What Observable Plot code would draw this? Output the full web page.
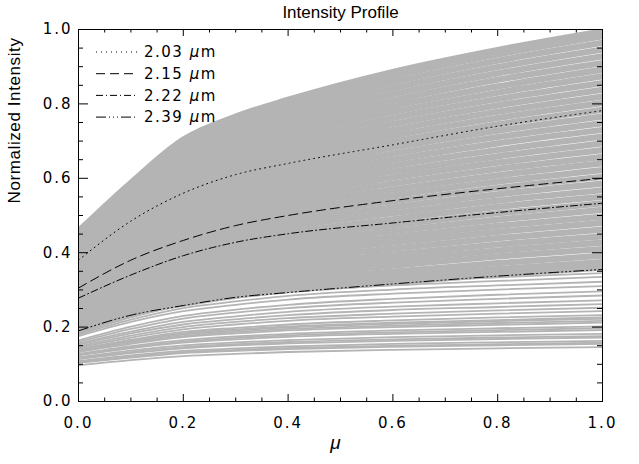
<!DOCTYPE html>
<html><head><meta charset="utf-8">
<script src="https://cdn.jsdelivr.net/npm/d3@7"></script>
<script src="https://cdn.jsdelivr.net/npm/@observablehq/plot@0.6"></script>
<style>
body{margin:0;background:#fff}
#chart svg{font-family:"Liberation Sans",Arial,sans-serif}
g[aria-label$="tick label"] text{letter-spacing:2px}
.legend text{letter-spacing:1.5px}
.ylab text{letter-spacing:0.6px}
</style>
</head><body><div id="chart"></div>
<script>
// mu sampling grid of every profile
const mu = [0, 0.1, 0.2, 0.3, 0.4, 0.6, 0.8, 1.0];

// dense family of grey profiles (upper band)
const bandCurves = [
  [0.192,0.235,0.263,0.284,0.299,0.320,0.342,0.360],
  [0.200,0.245,0.273,0.296,0.311,0.334,0.356,0.375],
  [0.208,0.255,0.286,0.309,0.325,0.349,0.372,0.392],
  [0.217,0.266,0.298,0.323,0.340,0.365,0.390,0.410],
  [0.225,0.276,0.311,0.336,0.354,0.380,0.406,0.427],
  [0.233,0.286,0.323,0.350,0.368,0.395,0.422,0.444],
  [0.241,0.297,0.336,0.363,0.382,0.411,0.439,0.462],
  [0.250,0.308,0.348,0.377,0.397,0.427,0.456,0.480],
  [0.258,0.318,0.360,0.390,0.411,0.442,0.472,0.497],
  [0.266,0.329,0.373,0.404,0.426,0.458,0.489,0.515],
  [0.274,0.339,0.386,0.418,0.440,0.474,0.506,0.533],
  [0.282,0.349,0.398,0.431,0.454,0.490,0.523,0.550],
  [0.290,0.359,0.410,0.445,0.469,0.506,0.540,0.568],
  [0.298,0.370,0.423,0.459,0.483,0.522,0.557,0.586],
  [0.306,0.380,0.436,0.473,0.498,0.538,0.574,0.604],
  [0.313,0.390,0.448,0.486,0.512,0.554,0.591,0.622],
  [0.321,0.400,0.461,0.500,0.527,0.570,0.608,0.640],
  [0.329,0.411,0.473,0.514,0.542,0.586,0.625,0.658],
  [0.336,0.421,0.486,0.527,0.556,0.602,0.642,0.676],
  [0.344,0.431,0.498,0.541,0.571,0.618,0.659,0.694],
  [0.351,0.440,0.511,0.555,0.585,0.634,0.676,0.712],
  [0.359,0.450,0.523,0.568,0.600,0.650,0.694,0.730],
  [0.366,0.460,0.536,0.582,0.614,0.666,0.711,0.748],
  [0.373,0.470,0.548,0.595,0.628,0.682,0.728,0.766],
  [0.380,0.479,0.560,0.609,0.643,0.698,0.745,0.784],
  [0.387,0.489,0.573,0.622,0.657,0.714,0.762,0.802],
  [0.394,0.498,0.585,0.636,0.672,0.730,0.779,0.820],
  [0.401,0.508,0.597,0.650,0.686,0.746,0.796,0.838],
  [0.408,0.517,0.610,0.663,0.700,0.762,0.813,0.856],
  [0.415,0.527,0.622,0.676,0.715,0.778,0.830,0.874],
  [0.422,0.536,0.634,0.690,0.729,0.794,0.847,0.892],
  [0.428,0.545,0.646,0.703,0.744,0.810,0.865,0.910],
  [0.435,0.554,0.659,0.717,0.758,0.826,0.882,0.928],
  [0.441,0.563,0.671,0.730,0.772,0.842,0.899,0.946],
  [0.447,0.572,0.683,0.743,0.786,0.858,0.916,0.964],
  [0.454,0.581,0.695,0.757,0.801,0.874,0.933,0.982],
  [0.458,0.588,0.704,0.766,0.811,0.886,0.945,0.995]
];

// sparser grey profiles (lower group)
const lowerCurves = [
  [0.186,0.231,0.266,0.286,0.302,0.321,0.334,0.345],
  [0.183,0.226,0.259,0.279,0.294,0.312,0.324,0.335],
  [0.180,0.220,0.251,0.269,0.284,0.301,0.312,0.322],
  [0.176,0.214,0.243,0.260,0.274,0.290,0.301,0.310],
  [0.164,0.201,0.230,0.247,0.260,0.276,0.287,0.296],
  [0.160,0.195,0.223,0.239,0.251,0.266,0.276,0.285],
  [0.156,0.188,0.214,0.229,0.241,0.255,0.264,0.272],
  [0.152,0.183,0.207,0.221,0.232,0.246,0.254,0.262],
  [0.148,0.177,0.200,0.214,0.224,0.236,0.245,0.252],
  [0.145,0.172,0.194,0.207,0.217,0.228,0.236,0.243],
  [0.141,0.166,0.187,0.198,0.207,0.218,0.226,0.232],
  [0.139,0.163,0.183,0.194,0.202,0.212,0.219,0.226],
  [0.137,0.161,0.180,0.191,0.199,0.209,0.216,0.222],
  [0.135,0.158,0.176,0.187,0.195,0.204,0.211,0.217],
  [0.133,0.155,0.173,0.183,0.191,0.200,0.206,0.212],
  [0.128,0.149,0.165,0.175,0.182,0.191,0.197,0.202],
  [0.126,0.146,0.161,0.171,0.178,0.186,0.192,0.197],
  [0.124,0.143,0.158,0.167,0.174,0.182,0.187,0.192],
  [0.119,0.137,0.151,0.159,0.165,0.173,0.178,0.182],
  [0.116,0.133,0.146,0.154,0.160,0.167,0.172,0.176],
  [0.114,0.130,0.143,0.151,0.156,0.163,0.168,0.172],
  [0.109,0.124,0.136,0.143,0.148,0.155,0.159,0.163],
  [0.106,0.121,0.133,0.139,0.144,0.150,0.154,0.158],
  [0.104,0.118,0.130,0.136,0.141,0.147,0.151,0.155],
  [0.097,0.111,0.122,0.128,0.133,0.139,0.143,0.146]
];

// highlighted wavelengths
const wavelengths = ["2.03", "2.15", "2.22", "2.39"];
const profile203 = [0.380,0.485,0.560,0.610,0.640,0.690,0.740,0.782];
const profile215 = [0.305,0.380,0.433,0.473,0.500,0.540,0.572,0.600];
const profile222 = [0.278,0.340,0.392,0.428,0.451,0.480,0.508,0.533];
const profile239 = [0.190,0.232,0.258,0.280,0.293,0.316,0.337,0.355];
const highlighted = [profile203, profile215, profile222, profile239];

// ticks
const majorTicks = [0, 0.2, 0.4, 0.6, 0.8, 1.0];
const minorTicks = [0.05,0.1,0.15,0.25,0.3,0.35,0.45,0.5,0.55,0.65,0.7,0.75,0.85,0.9,0.95];

// ---- styles / layout ----
const W = 639, H = 464, mT = 29, mL = 78, mR = 37, mB = 63;
const fw = W - mL - mR, fh = H - mT - mB;
const dashes = ["1,4", "9,5", "7,3,1,3", "10,3,1,3,1,3,1,3"];
const grey = "#b4b4b4";
const numFont = "DejaVu Sans";

const toRows = (curves) => curves.flatMap((c, i) => c.map((v, j) => ({id: i, mu: mu[j], v})));
const bandRows = toRows(bandCurves);
const lowerRows = toRows(lowerCurves);

function legend(index, scales, values, dims) {
  const g = d3.create("svg:g").attr("class", "legend");
  const x0 = dims.marginLeft + 18, x1 = x0 + 41;
  wavelengths.forEach((w, i) => {
    const y = dims.marginTop + 23 + i * 21.7;
    g.append("line").attr("x1", x0).attr("x2", x1).attr("y1", y).attr("y2", y)
      .attr("stroke", "black").attr("stroke-dasharray", dashes[i]);
    const t = g.append("text").attr("x", x1 + 7).attr("y", y).attr("dy", "0.35em")
      .attr("text-anchor", "start")
      .attr("font-family", numFont).attr("font-size", 15).attr("fill", "black");
    t.append("tspan").text(w + " ");
    t.append("tspan").attr("font-style", "italic").text("\u03bc");
    t.append("tspan").text("m");
  });
  return g.node();
}

const marks = [
  Plot.line(bandRows, {x: "mu", y: "v", z: "id", stroke: grey, strokeWidth: 6.2, curve: "monotone-x", clip: true}),
  Plot.line(lowerRows, {x: "mu", y: "v", z: "id", stroke: grey, strokeWidth: 1.8, curve: "monotone-x", clip: true}),
  ...highlighted.map((p, i) => Plot.line(p, {x: (d, j) => mu[j], y: d => d, stroke: "black", strokeWidth: 1, strokeDasharray: dashes[i], curve: "monotone-x"})),
  Plot.frame({stroke: "black"}),
  // ticks pointing inward on all four sides
  Plot.tickX(majorTicks, {x: d => d, insetTop: fh - 7, stroke: "black"}),
  Plot.tickX(minorTicks, {x: d => d, insetTop: fh - 3.5, stroke: "black"}),
  Plot.tickX(majorTicks, {x: d => d, insetBottom: fh - 7, stroke: "black"}),
  Plot.tickX(minorTicks, {x: d => d, insetBottom: fh - 3.5, stroke: "black"}),
  Plot.tickY(majorTicks, {y: d => d, insetRight: fw - 10, stroke: "black"}),
  Plot.tickY(minorTicks, {y: d => d, insetRight: fw - 5, stroke: "black"}),
  Plot.tickY(majorTicks, {y: d => d, insetLeft: fw - 10, stroke: "black"}),
  Plot.tickY(minorTicks, {y: d => d, insetLeft: fw - 5, stroke: "black"}),
  Plot.axisX(majorTicks, {tickSize: 0, tickPadding: 16, tickFormat: d3.format(".1f"), fontSize: 15, fontFamily: numFont, label: null}),
  Plot.axisY(majorTicks, {tickSize: 0, tickPadding: 6, tickFormat: d3.format(".1f"), fontSize: 15, fontFamily: numFont, label: null}),
  Plot.text(["Intensity Profile"], {frameAnchor: "top", lineAnchor: "middle", dy: -17, fontSize: 17, fill: "black"}),
  Plot.text(["Normalized Intensity"], {frameAnchor: "left", lineAnchor: "middle", rotate: -90, dx: -64, dy: -12, fontSize: 17, fill: "black", className: "ylab"}),
  Plot.text(["\u03bc"], {frameAnchor: "bottom", lineAnchor: "middle", dx: -5, dy: 41, fontSize: 19, fontStyle: "italic", fill: "black"}),
  legend
];

const chart = Plot.plot({
  width: W, height: H,
  marginTop: mT, marginLeft: mL, marginRight: mR, marginBottom: mB,
  x: {domain: [0, 1], label: null},
  y: {domain: [0, 1], label: null},
  style: {background: "white", color: "black", fontSize: "15px"},
  marks
});
document.getElementById("chart").append(chart);
</script>
</body></html>
